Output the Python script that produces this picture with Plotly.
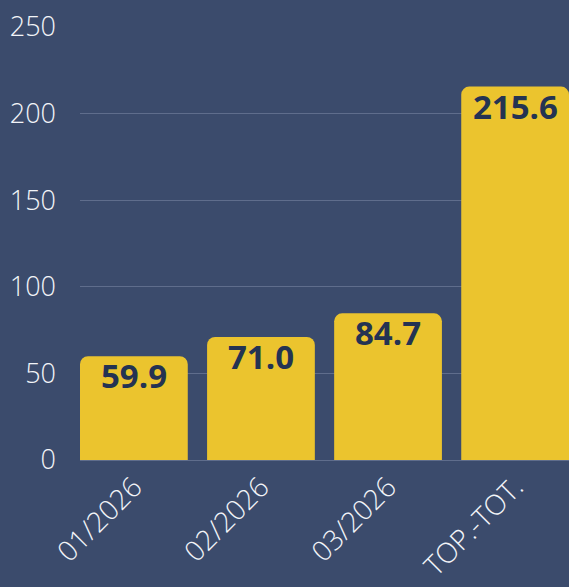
import plotly.graph_objects as go

categories = ["01/2026", "02/2026", "03/2026", "TOP.-TOT."]
values = [59.9, 71.0, 84.7, 215.6]
labels = ["59.9", "71.0", "84.7", "215.6"]
y_ticks = [0, 50, 100, 150, 200, 250]

BG = "#3b4b6c"
BAR = "#ebc42e"
TXT = "#243352"

fig = go.Figure(go.Bar(
    x=categories, y=values,
    marker=dict(color=BAR, cornerradius=8, line=dict(width=0)),
    width=0.848,
    hoverinfo="x+y",
))

for c, v, t in zip(categories, values, labels):
    fig.add_annotation(
        x=c, y=v, text=t, showarrow=False, yanchor="top", xanchor="center",
        yshift=5,
        font=dict(family="Open Sans", size=33, color=TXT, weight="bold"),
    )

fig.update_layout(
    width=569, height=587,
    paper_bgcolor=BG, plot_bgcolor=BG,
    margin=dict(l=80, r=0, t=27, b=127),
    showlegend=False,
    xaxis=dict(
        range=[-0.424, 3.424], tickangle=-45, automargin=False,
        tickfont=dict(family="Open Sans", size=28, color="#f2f4f8", weight=300),
        showgrid=False, zeroline=False, showline=False, ticks="",
        ticklabelstandoff=4,
    ),
    yaxis=dict(
        range=[0, 250], tickvals=y_ticks, automargin=False,
        tickfont=dict(family="Open Sans", size=27, color="#f2f4f8", weight=300),
        showgrid=True, gridcolor="#5f6d8c", gridwidth=1,
        zeroline=True, zerolinecolor="#5f6d8c", zerolinewidth=1,
        showline=False, ticks="", ticklabelstandoff=23,
    ),
)

fig.write_html("out.html", config={"displayModeBar": False},
               post_script="document.body.style.margin='0';document.body.style.padding='0';")
